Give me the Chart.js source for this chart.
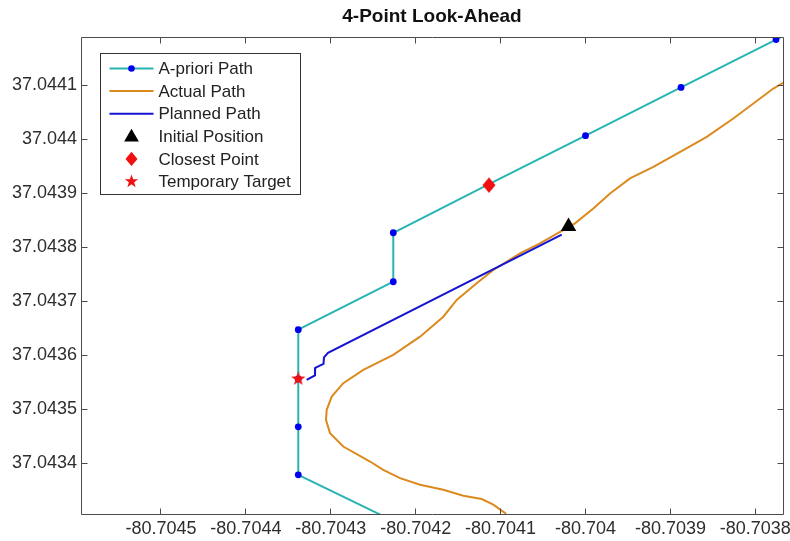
<!DOCTYPE html>
<html>
<head>
<meta charset="utf-8">
<script src="https://cdn.jsdelivr.net/npm/chart.js@4.4.1/dist/chart.umd.min.js"></script>
<style>
  html, body { margin: 0; padding: 0; background: #fff; }
  canvas { display: block; }
</style>
</head>
<body>
<canvas id="c" width="790" height="541"></canvas>
<script>
// Waypoint route (longitude / latitude), the last and first points run off the plotted window
const aprioriLon = [-80.7042256, -80.7043383, -80.7043383, -80.7043383, -80.7043383, -80.7042264,
                    -80.7042264, -80.7041137, -80.7040000, -80.7038875, -80.7037756, -80.7036625];
const aprioriLat = [37.0432921, 37.0433782, 37.0434670, 37.0435558, 37.0436470, 37.0437357,
                    37.0438264, 37.0439164, 37.0440061, 37.0440955, 37.0441841, 37.0442734];

// Recorded track of the vehicle
const actualLon = [-80.7037638, -80.7037788, -80.7038023, -80.7038259, -80.7038572, -80.7038848,
                   -80.7039201, -80.7039476, -80.7039711, -80.7039908, -80.7040124, -80.7040300,
                   -80.7040536, -80.7040772, -80.7041086, -80.7041282, -80.7041517, -80.7041675,
                   -80.7041949, -80.7042264, -80.7042617, -80.7042853, -80.7042989, -80.7043048,
                   -80.7043057, -80.7043009, -80.7042853, -80.7042538, -80.7042382, -80.7042185,
                   -80.7041949, -80.7041675, -80.7041439, -80.7041223, -80.7041086, -80.7040948,
                   -80.7040913];
const actualLat = [37.0441073, 37.0440934, 37.0440657, 37.0440380, 37.0440039, 37.0439793,
                   37.0439484, 37.0439270, 37.0438992, 37.0438715, 37.0438438, 37.0438282,
                   37.0438068, 37.0437883, 37.0437574, 37.0437328, 37.0437019, 37.0436710,
                   37.0436340, 37.0436002, 37.0435724, 37.0435478, 37.0435231, 37.0434985,
                   37.0434800, 37.0434554, 37.0434306, 37.0434028, 37.0433875, 37.0433721,
                   37.0433598, 37.0433505, 37.0433394, 37.0433333, 37.0433228, 37.0433074,
                   37.0432987];

// Look-ahead plan from the initial position toward the temporary target
const plannedLon = [-80.7040280, -80.7043033, -80.7043080, -80.7043086, -80.7043184, -80.7043186, -80.7043284];
const plannedLat = [37.0438230, 37.0436039, 37.0435956, 37.0435835, 37.0435761, 37.0435623, 37.0435539];

const initialLon = [-80.7040200];
const initialLat = [37.0438382];
const closestLon = [-80.7041137];
const closestLat = [37.0439146];
const targetLon  = [-80.7043383];
const targetLat  = [37.0435558];

const seriesLabels = ['A-priori Path', 'Actual Path', 'Planned Path', 'Initial Position', 'Closest Point', 'Temporary Target'];
const chartTitle = '4-Point Look-Ahead';

const xRange = [-80.7045942, -80.7037674];
const yRange = [37.0433056, 37.0441889];
const tickStep = 0.0001;

const COL_APRIORI = '#29b4b4';
const COL_APRIORI_DOT = '#0000f0';
const COL_ACTUAL = '#dc8a1e';
const COL_PLANNED = '#1414d2';
const COL_RED = '#f01010';
const COL_AXIS = '#4a4a4a';
const COL_TEXT = '#2e2e2e';
const FONT_FAMILY = '"Liberation Sans", Arial, sans-serif';

const pts = (xs, ys) => xs.map((v, i) => ({ x: v, y: ys[i] }));

function starPath(g, cx, cy, R, r) {
  g.beginPath();
  for (let i = 0; i < 10; i++) {
    const a = -Math.PI / 2 + i * Math.PI / 5;
    const rr = i % 2 ? r : R;
    g.lineTo(cx + rr * Math.cos(a), cy + rr * Math.sin(a));
  }
  g.closePath();
}
function diamondPath(g, cx, cy, hw, hh) {
  g.beginPath();
  g.moveTo(cx, cy - hh); g.lineTo(cx + hw, cy); g.lineTo(cx, cy + hh); g.lineTo(cx - hw, cy);
  g.closePath();
}
function trianglePath(g, cx, cy, r) {
  g.beginPath();
  for (let i = 0; i < 3; i++) {
    const a = -Math.PI / 2 + i * 2 * Math.PI / 3;
    g.lineTo(cx + r * Math.cos(a), cy + r * Math.sin(a));
  }
  g.closePath();
}
function markerCanvas(w, h, draw) {
  const c = document.createElement('canvas');
  c.width = w; c.height = h;
  const g = c.getContext('2d');
  draw(g, w / 2, h / 2);
  return c;
}
const starImg = markerCanvas(16, 16, (g, cx, cy) => { starPath(g, cx, cy, 7.5, 3.0); g.fillStyle = COL_RED; g.fill(); });
const diamondImg = markerCanvas(14, 16, (g, cx, cy) => { diamondPath(g, cx, cy, 6.5, 7.8); g.fillStyle = COL_RED; g.fill(); });

// Box outline with inward tick marks on all four sides
const frameTicks = {
  id: 'frameTicks',
  afterDatasetsDraw(chart) {
    const { ctx, chartArea: a, scales: { x, y } } = chart;
    const L = Math.floor(a.left) + 0.5, R = Math.floor(a.right) + 0.5;
    const T = Math.floor(a.top) + 0.5, B = Math.floor(a.bottom) + 0.5;
    const len = 6;
    ctx.save();
    ctx.strokeStyle = COL_AXIS;
    ctx.lineWidth = 1;
    ctx.beginPath();
    ctx.rect(L, T, R - L, B - T);
    x.ticks.forEach(t => {
      const px = Math.floor(x.getPixelForValue(t.value)) + 0.5;
      ctx.moveTo(px, B); ctx.lineTo(px, B - len);
      ctx.moveTo(px, T); ctx.lineTo(px, T + len);
    });
    y.ticks.forEach(t => {
      const py = Math.floor(y.getPixelForValue(t.value)) + 0.5;
      ctx.moveTo(L, py); ctx.lineTo(L + len, py);
      ctx.moveTo(R, py); ctx.lineTo(R - len, py);
    });
    ctx.stroke();
    ctx.restore();
  }
};

// Boxed legend in the upper-left corner of the plot
const boxLegend = {
  id: 'boxLegend',
  afterDraw(chart) {
    const { ctx, chartArea: a } = chart;
    const bx = Math.floor(a.left) + 19.5, by = Math.floor(a.top) + 16.5, bw = 200, bh = 141;
    const rowH = 22.6, row0 = by + 15;
    const sx0 = bx + 9, sx1 = bx + 53, sxm = (sx0 + sx1) / 2, tx = bx + 58;
    ctx.save();
    ctx.fillStyle = '#fff';
    ctx.fillRect(bx, by, bw, bh);
    ctx.strokeStyle = '#333';
    ctx.lineWidth = 1;
    ctx.strokeRect(bx, by, bw, bh);
    const lineCols = [COL_APRIORI, COL_ACTUAL, COL_PLANNED];
    chart.data.datasets.forEach((ds, i) => {
      const cy = row0 + i * rowH;
      if (i < 3) {
        ctx.strokeStyle = lineCols[i];
        ctx.lineWidth = 2;
        ctx.beginPath(); ctx.moveTo(sx0, cy); ctx.lineTo(sx1, cy); ctx.stroke();
        if (i === 0) {
          ctx.fillStyle = COL_APRIORI_DOT;
          ctx.beginPath(); ctx.arc(sxm, cy, 3.3, 0, Math.PI * 2); ctx.fill();
        }
      } else if (i === 3) {
        trianglePath(ctx, sxm, cy + 1, 8.5); ctx.fillStyle = '#000'; ctx.fill();
      } else if (i === 4) {
        diamondPath(ctx, sxm, cy, 6, 7.2); ctx.fillStyle = COL_RED; ctx.fill();
      } else {
        starPath(ctx, sxm, cy, 7, 2.8); ctx.fillStyle = COL_RED; ctx.fill();
      }
      ctx.fillStyle = '#222';
      ctx.font = '17px ' + FONT_FAMILY;
      ctx.textAlign = 'left';
      ctx.textBaseline = 'middle';
      ctx.fillText(ds.label, tx, cy + 1);
    });
    ctx.restore();
  }
};

const tickFmt = v => String(Math.round(v * 1e4) / 1e4);
const noPadding = () => ({ left: 0, top: 0, right: 0, bottom: 0 });

new Chart(document.getElementById('c'), {
  type: 'scatter',
  data: {
    datasets: [
      { label: seriesLabels[0], data: pts(aprioriLon, aprioriLat), showLine: true,
        borderColor: COL_APRIORI, borderWidth: 2, pointRadius: 3.4, pointBackgroundColor: COL_APRIORI_DOT,
        pointBorderWidth: 0, clip: 0, order: 3 },
      { label: seriesLabels[1], data: pts(actualLon, actualLat), showLine: true,
        borderColor: COL_ACTUAL, borderWidth: 2, pointRadius: 0, clip: 0, order: 5 },
      { label: seriesLabels[2], data: pts(plannedLon, plannedLat), showLine: true,
        borderColor: COL_PLANNED, borderWidth: 2, pointRadius: 0, clip: 0, order: 4 },
      { label: seriesLabels[3], data: pts(initialLon, initialLat), pointStyle: 'triangle',
        pointRadius: 9, pointBackgroundColor: '#000', pointBorderWidth: 0, order: 0 },
      { label: seriesLabels[4], data: pts(closestLon, closestLat), pointStyle: diamondImg,
        pointRadius: 8, order: 1 },
      { label: seriesLabels[5], data: pts(targetLon, targetLat), pointStyle: starImg,
        pointRadius: 8, order: 2 }
    ]
  },
  options: {
    responsive: false,
    animation: false,
    events: [],
    devicePixelRatio: 1,
    layout: { autoPadding: false, padding: { left: 0, right: 7, top: 0, bottom: 0 } },
    plugins: {
      legend: { display: false },
      tooltip: { enabled: false },
      title: {
        display: true, text: chartTitle, fullSize: false, color: '#111',
        font: { family: FONT_FAMILY, size: 19, weight: 'bold' },
        padding: { top: 5.5, bottom: 8.7 }
      }
    },
    scales: {
      x: {
        type: 'linear', position: 'bottom', min: xRange[0], max: xRange[1],
        grid: { display: false, drawTicks: false }, border: { display: false },
        ticks: { stepSize: tickStep, precision: 4, includeBounds: false, autoSkip: false,
                 maxRotation: 0, padding: 4, color: COL_TEXT,
                 font: { family: FONT_FAMILY, size: 18 }, callback: tickFmt },
        afterFit(s) { s.height = 27; s.paddingLeft = 0; s.paddingRight = 0; s.getPadding = noPadding; }
      },
      y: {
        type: 'linear', position: 'left', min: yRange[0], max: yRange[1],
        grid: { display: false, drawTicks: false }, border: { display: false },
        ticks: { stepSize: tickStep, precision: 4, includeBounds: false, autoSkip: false,
                 padding: 4, color: COL_TEXT,
                 font: { family: FONT_FAMILY, size: 18 }, callback: tickFmt },
        afterFit(s) { s.width = 81; s.paddingTop = 0; s.paddingBottom = 0; s.getPadding = noPadding; }
      }
    }
  },
  plugins: [frameTicks, boxLegend]
});
</script>
</body>
</html>
